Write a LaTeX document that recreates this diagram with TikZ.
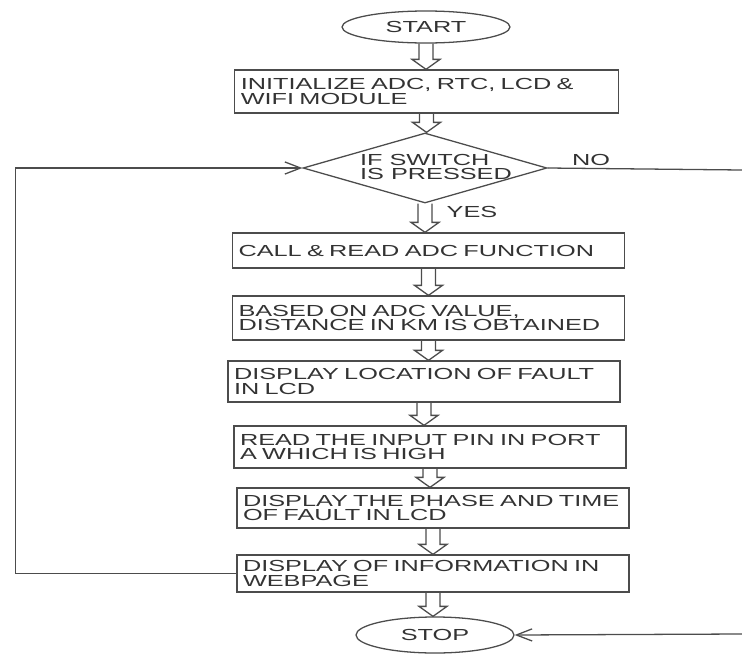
\documentclass[tikz,border=0pt]{standalone}
\usepackage{fontspec}
\setmainfont{Liberation Sans}[FakeStretch=1.58]
\usetikzlibrary{shapes.geometric,arrows.meta,calc}

\tikzset{
  ink/.style={draw=black!70, line width=0.9pt},
  terminal/.style={ellipse, ink, text=black!80, inner sep=0pt},
  proc/.style={rectangle, ink, text=black!80, text width=266pt, inner xsep=4.2pt, inner ysep=0pt, align=left},
  decision/.style={diamond, ink, minimum width=170.8pt, minimum height=49pt, inner sep=0pt},
  flow/.style={ink, line join=miter, to path={let \p1=(\tikztostart), \p2=(\tikztotarget) in
    (\x1-4.9pt,\y1) -- (\x1-4.9pt,\y2+7pt) -- (\x1-9.8pt,\y2+7pt) -- (\x1,\y2)
    -- (\x1+9.8pt,\y2+7pt) -- (\x1+4.9pt,\y2+7pt) -- (\x1+4.9pt,\y1)}},
  barb/.style={ink, -{Straight Barb[length=11pt,width=8.5pt]}},
}

\begin{document}
\begin{tikzpicture}[x=0.7pt, y=-0.7pt, font=\fontsize{11.2}{10.2}\selectfont]
\useasboundingbox (0,0) rectangle (742,654);

\node[terminal, minimum width=117.6pt, minimum height=22.4pt] (start) at (426,27) {START};
\node[proc, text width=260pt, minimum height=30.1pt] (init) at (426.5,91.5) {INITIALIZE ADC, RTC, LCD \&\\WIFI MODULE};
\node[decision] (dec) at (425,168) {};
\node[align=left, text=black!80, inner sep=0pt] (dectext) at (436,167) {IF SWITCH\\IS PRESSED};
\node[text=black!80, inner sep=0pt] (yes) at (472,212) {YES};
\node[text=black!80, inner sep=0pt] (no) at (591,160) {NO};
\node[proc, minimum height=24.5pt] (call) at (428.5,250.5) {CALL \& READ ADC FUNCTION};
\node[proc, minimum height=30.8pt] (based) at (428.5,318) {BASED ON ADC VALUE,\\DISTANCE IN KM IS OBTAINED};
\node[proc, minimum height=28.7pt] (loc) at (424,381.5) {DISPLAY LOCATION OF FAULT\\IN LCD};
\node[proc, minimum height=29.4pt] (pin) at (430,447) {READ THE INPUT PIN IN PORT\\A WHICH IS HIGH};
\node[proc, minimum height=28pt] (phase) at (433,508) {DISPLAY THE PHASE AND TIME\\OF FAULT IN LCD};
\node[proc, minimum height=25.9pt] (web) at (433,573.5) {DISPLAY OF INFORMATION IN\\WEBPAGE};
\node[terminal, minimum width=110.6pt, minimum height=25.2pt] (stop) at (435,635) {STOP};

\coordinate (noend) at (742,170);
\coordinate (stopin) at (742,634);

% main flow
\draw[flow] (start.south) to (init.north);
\draw[flow] (init.south) to (dec.north);
\draw[flow] (dec.south) to (call.north);
\draw[flow] (call.south) to (based.north);
\draw[flow] (based.south) to (loc.north);
\draw[flow] (loc.south) to (pin.north);
\draw[flow] (pin.south) to (phase.north);
\draw[flow] (phase.south) to (web.north);
\draw[flow] (web.south) to (stop.north);

% loop back and NO branch
\draw[barb] (web.west) -- ++(-221,0) |- (dec.west);
\draw[ink] (dec.east) -- (noend);
\draw[barb] (stopin) -- (stop.east);
\end{tikzpicture}
\end{document}
